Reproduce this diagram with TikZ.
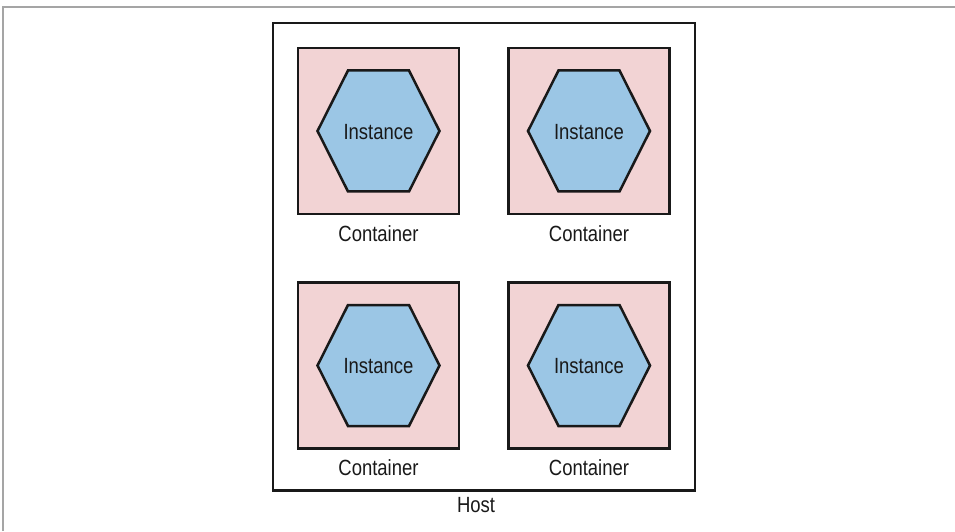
\documentclass[tikz,border=0pt]{standalone}
\usepackage{fontspec}
\setmainfont{Liberation Sans}[FakeStretch=0.84]
\usepackage{tikz}
\usetikzlibrary{positioning, calc}
\definecolor{containerPink}{RGB}{242, 211, 212}
\definecolor{instanceBlue}{RGB}{155, 198, 229}
\definecolor{lineBlack}{RGB}{25, 25, 25}
\definecolor{frameGray}{RGB}{165, 165, 165}

% hexagon drawn round the centre of a container node
\newcommand{\instancehex}[1]{%
    \path[hexa] (#1) ++(-61,0) -- ++(30.5,60.5) -- ++(61,0) -- ++(30.5,-60.5) -- ++(-30.5,-60.5) -- ++(-61,0) -- cycle;}

\begin{document}
\begin{tikzpicture}[
    x=1pt, y=1pt,
    host/.style={rectangle, draw=lineBlack, line width=2.5pt, minimum width=422pt, minimum height=467.5pt, inner sep=0pt},
    container/.style={rectangle, draw=lineBlack, fill=containerPink, line width=2.5pt, minimum width=161pt, minimum height=166pt, inner sep=0pt},
    hexa/.style={draw=lineBlack, fill=instanceBlue, line width=2.5pt, line join=miter},
    caption/.style={inner sep=0pt, text=lineBlack, font=\fontsize{22}{25}\selectfont},
    frame/.style={draw=frameGray, line width=1.2pt}
]
    \useasboundingbox (0,0) rectangle (955,531);

    % Page frame (top and left only)
    \coordinate (frameTL) at (3,524);
    \coordinate (frameTR) at (955,524);
    \coordinate (frameBL) at (3,0);
    \draw[frame] (frameBL) -- (frameTL) -- (frameTR);

    % Host box
    \node[host] (host) at (484,274.25) {};
    \node[caption, below=5pt of host.south, xshift=-8pt, anchor=north] (hostLabel) {Host};

    % Row 1: two containers
    \node[container] (cont1) at (378.5,400) {};
    \node[container] (cont2) at (589,400) {};
    \instancehex{cont1}
    \instancehex{cont2}
    \node[caption] (inst1) at ([yshift=-1pt]cont1) {Instance};
    \node[caption] (inst2) at ([yshift=-1pt]cont2) {Instance};
    \node[caption, below=10pt of cont1] (contLabel1) {Container};
    \node[caption, below=10pt of cont2] (contLabel2) {Container};

    % Row 2: two containers
    \node[container] (cont3) at (378.5,165.5) {};
    \node[container] (cont4) at (589,165.5) {};
    \instancehex{cont3}
    \instancehex{cont4}
    \node[caption] (inst3) at ([yshift=-1pt]cont3) {Instance};
    \node[caption] (inst4) at ([yshift=-1pt]cont4) {Instance};
    \node[caption, below=10pt of cont3] (contLabel3) {Container};
    \node[caption, below=10pt of cont4] (contLabel4) {Container};
\end{tikzpicture}
\end{document}
